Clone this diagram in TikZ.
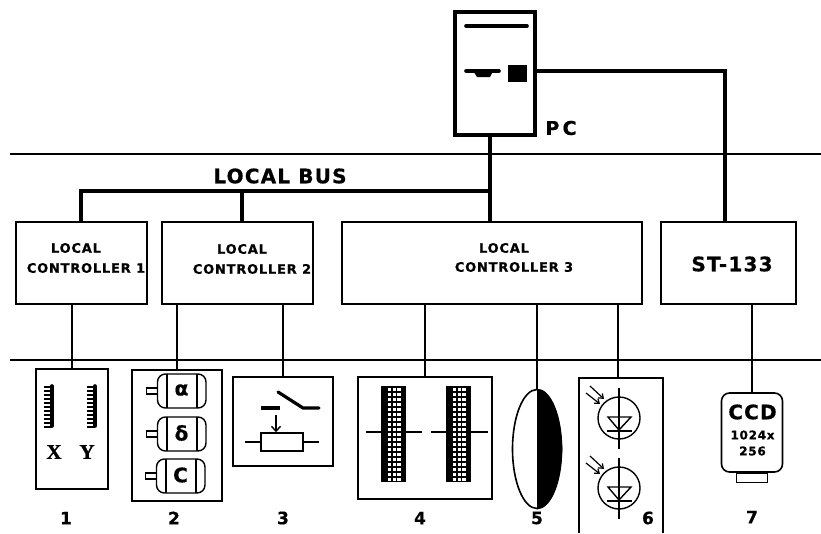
\documentclass[tikz,border=0pt]{standalone}
\usepackage{fontspec}
\usetikzlibrary{arrows.meta,shapes.geometric}
\newfontfamily\diagfont[LetterSpace=6,FakeBold=0.6]{DejaVu Sans}
\newfontfamily\xyfont[FakeBold=0.8]{Liberation Serif}
\tikzset{
  wire/.style={line width=1.9pt},
  bus/.style={line width=4.6pt},
  ctrlbox/.style={draw,line width=1.6pt,inner sep=0pt,minimum height=82pt},
  unitbox/.style={draw,line width=1.6pt,inner sep=0pt},
  thintxt/.style={inner sep=0pt,font=\diagfont\bfseries\fontsize{13}{15}\selectfont},
  numtxt/.style={inner sep=0pt,font=\diagfont\bfseries\fontsize{17}{19}\selectfont},
  rayline/.style={line width=1.2pt,-{Straight Barb[length=4pt,width=6pt]}}
}
\begin{document}
\begin{tikzpicture}[x=1pt,y=-1pt]
  \useasboundingbox (0,0) rectangle (821,533);
  \coordinate (rulea) at (10,154);
  \coordinate (ruleb) at (10,360);
  \draw[line width=1.3pt] (rulea) -- (821,154);
  \draw[line width=1.3pt] (ruleb) -- (821,360);

  \node[draw,line width=4.6pt,inner sep=0pt,minimum width=80pt,minimum height=123pt] (pc) at (495,73.5) {};
  \node[fill=black,inner sep=0pt,minimum width=19pt,minimum height=17pt] (port) at (517,73) {};
  \draw[line width=3.6pt,line cap=round] (466,26) -- (527,26);
  \draw[line width=3.6pt,line cap=round] (466,71) -- (499,71);
  \fill (473,71) -- (493,71) -- (490,77) -- (477,77) -- cycle;
  \node[inner sep=0pt,font=\diagfont\bfseries\fontsize{19}{21}\selectfont] (pclabel) at (561,128) {P\,C};

  \node[inner sep=0pt,font=\diagfont\bfseries\fontsize{20}{22}\selectfont] (buslabel) at (280,176) {LOCAL BUS};
  \node[ctrlbox,minimum width=131pt] (lca) at (81.5,263) {};
  \node[ctrlbox,minimum width=151pt] (lcb) at (237.5,263) {};
  \node[ctrlbox,minimum width=300pt] (lcc) at (492,263) {};
  \node[ctrlbox,minimum width=135pt] (st) at (728.5,263) {};
  \node[thintxt] at (76,248) {LOCAL};
  \node[thintxt] at (86,268) {CONTROLLER 1};
  \node[thintxt] at (242,249) {LOCAL};
  \node[thintxt] at (252,269) {CONTROLLER 2};
  \node[thintxt] at (504,248) {LOCAL};
  \node[thintxt] at (514,267) {CONTROLLER 3};
  \node[inner sep=0pt,font=\diagfont\bfseries\fontsize{20}{22}\selectfont] at (732,264) {ST-133};

  \coordinate (busa) at (81,191);
  \coordinate (busb) at (242,191);
  \coordinate (busc) at (490,191);
  \coordinate (pcout) at (537,71);
  \coordinate (stin) at (725,222);
  \draw[bus] (lca.north -| busa) -- (busa) -- (busc);
  \draw[bus] (lcb.north -| busb) -- (busb);
  \draw[bus] (pc.south -| busc) -- (lcc.north -| busc);
  \draw[bus] (pcout) -| (stin);

  \node[unitbox,minimum width=72pt,minimum height=120pt] (ua) at (72,429) {};
  \node[unitbox,minimum width=90pt,minimum height=131pt] (ub) at (177,435.5) {};
  \node[unitbox,minimum width=100pt,minimum height=89pt] (uc) at (283,421.5) {};
  \node[unitbox,minimum width=134pt,minimum height=122pt] (ud) at (425,438) {};
  \node[unitbox,shape=ellipse,minimum width=49pt,minimum height=119pt] (ue) at (537,449) {};
  \coordinate (uf) at (618,378);
  \node[unitbox,rounded corners=8pt,minimum width=61pt,minimum height=79pt] (ug) at (752,432.5) {};
  \node[unitbox,minimum width=31pt,minimum height=9pt,anchor=north] (ugstem) at (ug.south) {};
  \draw[line width=1.6pt] (579,533) -- (579,378) -- (663,378) -- (663,533);

  \draw[wire] (lca.south -| ua.north) -- (ua.north);
  \draw[wire] (lcb.south -| ub.north) -- (ub.north);
  \draw[wire] (lcb.south -| uc.north) -- (uc.north);
  \draw[wire] (lcc.south -| ud.north) -- (ud.north);
  \draw[wire] (lcc.south -| ue.north) -- (ue.north);
  \draw[wire] (lcc.south -| uf) -- (uf);
  \draw[wire] (st.south -| ug.north) -- (ug.north);

  \foreach \xpos in {52,95} {
    \draw[line width=3.6pt,line cap=round] (\xpos,386) -- (\xpos,426);
    \foreach \ypos in {387,391,...,427}
      \draw[line width=1.5pt] (\xpos,\ypos) -- (\xpos-8,\ypos);
  }
  \node[inner sep=0pt,font=\xyfont\bfseries\fontsize{21}{23}\selectfont] at (54,452) {X};
  \node[inner sep=0pt,font=\xyfont\bfseries\fontsize{21}{23}\selectfont] at (87,452) {Y};

  \foreach \xoff/\ypos/\sym in {0/391/α,0/434/δ,-1/476/C} {
    \begin{scope}[xshift=\xoff pt]
      \draw[line width=1.4pt,rounded corners=8pt] (157.5,\ypos-17) rectangle (206,\ypos+17);
      \draw[line width=1.4pt] (167,\ypos-17) -- (167,\ypos+17);
      \draw[line width=1.4pt] (197,\ypos-17) -- (197,\ypos+17);
      \draw[line width=1.4pt] (157.5,\ypos-3) -- (146.5,\ypos-3) -- (146.5,\ypos+3) -- (157.5,\ypos+3);
      \node[inner sep=0pt,font=\diagfont\bfseries\fontsize{20}{22}\selectfont] at (181.5,\ypos-1) {\sym};
    \end{scope}
  }

  \draw[line width=3.6pt] (261,408) -- (280,408);
  \draw[line width=3.2pt,line cap=round] (278,392) -- (303,408) -- (319,408);
  \node[draw,line width=1.4pt,inner sep=0pt,minimum width=42pt,minimum height=18pt] (pot) at (282,442) {};
  \draw[line width=1.4pt] (pot.west) -- +(-15,0);
  \draw[line width=1.4pt] (pot.east) -- +(15,0);
  \coordinate (slider) at (276,415);
  \draw[line width=1.4pt,-{Straight Barb[length=5pt,width=9pt]}] (slider) -- (slider |- pot.north);

  \foreach \xpos in {381,446} {
    \fill (\xpos,386) rectangle (\xpos+25,482);
    \foreach \col in {0,1,2}
      \foreach \row in {0,...,18}
        \fill[white] (\xpos+7,387.5+\row*5) ++(\col*4.6,0) rectangle +(3.4,3.8);
  }
  \foreach \xa/\xb in {366/381,406/422,431/446,470/488}
    \draw[line width=1.6pt] (\xa,432) -- (\xb,432);

  \fill (ue.north) .. controls (550.5,389) and (561.5,416) .. (ue.east) .. controls (561.5,482) and (550.5,508) .. (ue.south) -- cycle;

  \foreach \yoff in {0,70} {
    \begin{scope}[yshift=-\yoff pt]
      \draw[line width=1.4pt] (619,418) circle (21);
      \draw[line width=1.2pt] (619,388) -- (619,449);
      \draw[line width=1.4pt] (608,417) -- (631,417) -- (619,430) -- cycle;
      \draw[line width=1.4pt] (607,431) -- (632,431);
      \draw[rayline] (590,386) -- (604,399);
      \draw[rayline] (586,393) -- (600,404);
    \end{scope}
  }

  \node[inner sep=0pt,font=\diagfont\bfseries\fontsize{20}{22}\selectfont] at (752.5,412) {CCD};
  \node[inner sep=0pt,font=\diagfont\bfseries\fontsize{12}{14}\selectfont] at (752.5,435) {1024x};
  \node[inner sep=0pt,font=\diagfont\bfseries\fontsize{12}{14}\selectfont] at (752.5,451) {256};

  \node[numtxt] at (66,518) {1};
  \node[numtxt] at (174,518) {2};
  \node[numtxt] at (283,518) {3};
  \node[numtxt] at (420,518) {4};
  \node[numtxt] at (537,518) {5};
  \node[numtxt] at (648,518) {6};
  \node[numtxt] at (752,517) {7};
\end{tikzpicture}
\end{document}
